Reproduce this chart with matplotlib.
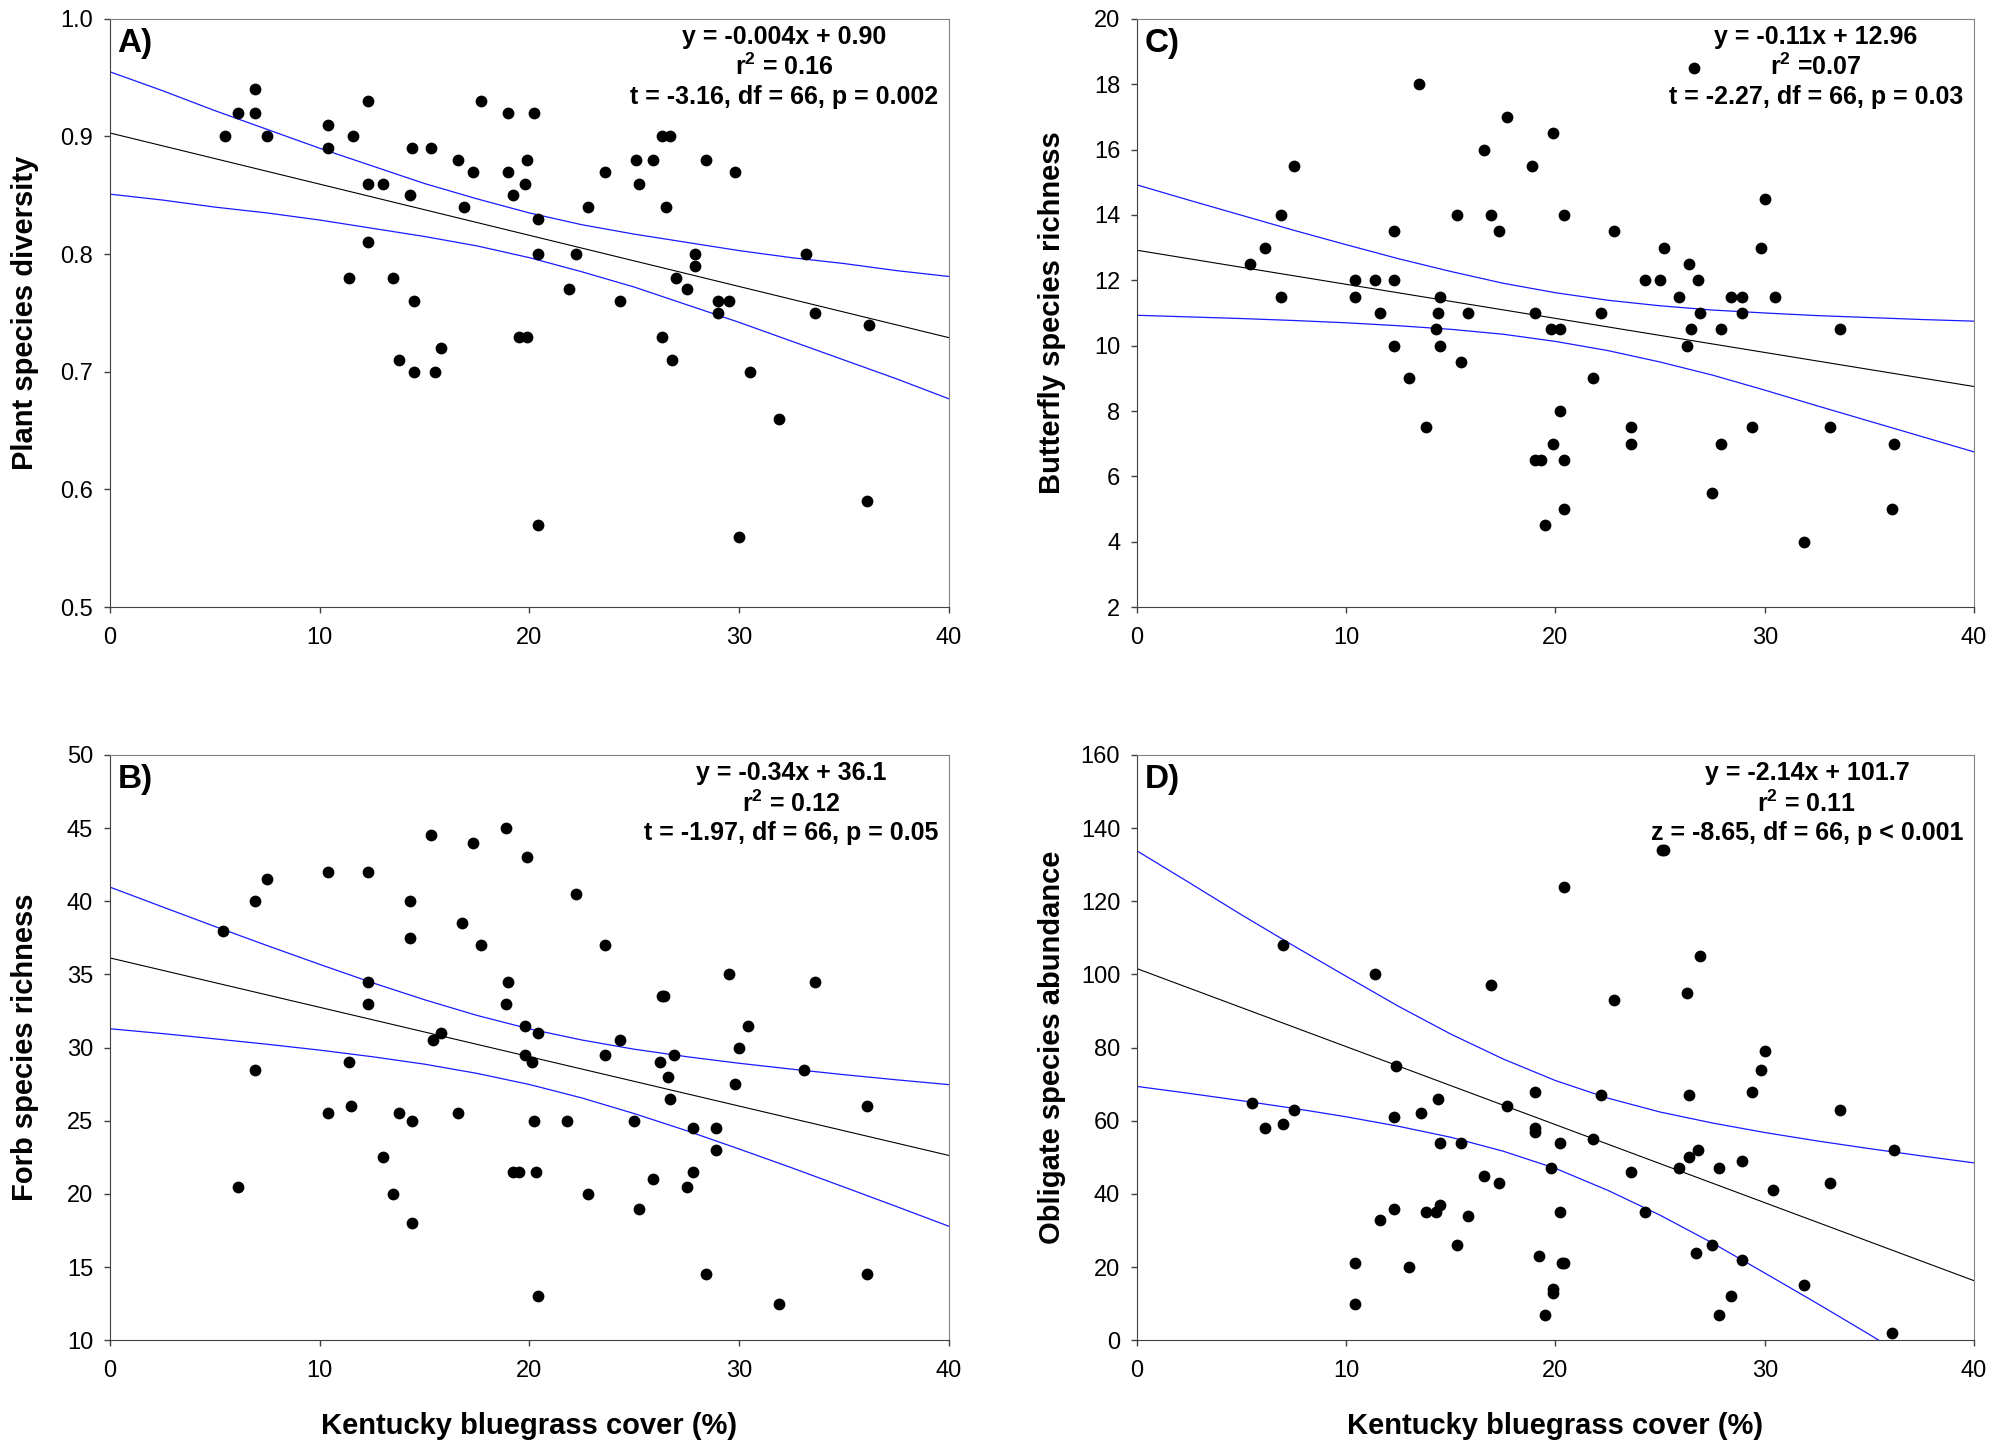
import matplotlib
matplotlib.use('Agg')
import matplotlib.pyplot as plt
import numpy as np

plt.rcParams['font.family'] = ['Liberation Sans', 'DejaVu Sans']
plt.rcParams['mathtext.fontset'] = 'custom'
plt.rcParams['mathtext.rm'] = 'Liberation Sans'
plt.rcParams['mathtext.bf'] = 'Liberation Sans:bold'

# ---------------- data ----------------
# A) plant species diversity
x_a = [5.5, 6.1, 6.9, 6.9, 7.5, 10.4, 10.4, 11.6, 12.3, 12.3, 13.0, 12.3, 11.4, 14.3,
       14.4, 15.3, 13.5, 14.5, 13.8, 14.5, 15.5, 15.8, 16.6, 17.3, 16.9, 17.7, 19.0,
       20.2, 19.0, 19.2, 19.9, 19.8, 20.4, 20.4, 19.5, 19.9, 20.4, 21.9, 22.2, 22.8,
       23.6, 24.3, 25.1, 25.2, 25.9, 26.3, 26.7, 26.5, 26.3, 26.8, 27.0, 27.5, 27.9,
       27.9, 28.4, 29.0, 29.5, 29.0, 29.8, 30.5, 31.9, 33.2, 33.6, 36.2, 36.1, 30.0]
y_a = [0.90, 0.92, 0.94, 0.92, 0.90, 0.91, 0.89, 0.90, 0.93, 0.86, 0.86, 0.81, 0.78, 0.85,
       0.89, 0.89, 0.78, 0.76, 0.71, 0.70, 0.70, 0.72, 0.88, 0.87, 0.84, 0.93, 0.92,
       0.92, 0.87, 0.85, 0.88, 0.86, 0.83, 0.80, 0.73, 0.73, 0.57, 0.77, 0.80, 0.84,
       0.87, 0.76, 0.88, 0.86, 0.88, 0.90, 0.90, 0.84, 0.73, 0.71, 0.78, 0.77, 0.80,
       0.79, 0.88, 0.76, 0.76, 0.75, 0.87, 0.70, 0.66, 0.80, 0.75, 0.74, 0.59, 0.56]

# C) butterfly species richness
x_c = [5.4, 6.1, 6.9, 6.9, 7.5, 10.4, 10.4, 11.4, 11.6, 12.3, 12.3, 12.3, 13.0, 13.5,
       13.8, 14.5, 14.4, 14.3, 14.5, 15.3, 15.5, 15.8, 16.6, 16.9, 17.3, 17.7, 18.9,
       19.0, 19.0, 19.3, 19.5, 19.8, 20.2, 19.9, 19.9, 20.4, 20.2, 20.4, 20.4, 21.8,
       22.2, 22.8, 23.6, 23.6, 24.3, 25.0, 25.2, 25.9, 26.4, 26.8, 26.5, 26.3, 26.9,
       26.6, 27.5, 27.9, 27.9, 28.4, 28.9, 28.9, 29.4, 29.8, 30.0, 30.5, 31.9, 33.1,
       33.6, 36.2, 36.1]
y_c = [12.5, 13.0, 14.0, 11.5, 15.5, 12.0, 11.5, 12.0, 11.0, 13.5, 12.0, 10.0, 9.0, 18.0,
       7.5, 11.5, 11.0, 10.5, 10.0, 14.0, 9.5, 11.0, 16.0, 14.0, 13.5, 17.0, 15.5,
       11.0, 6.5, 6.5, 4.5, 10.5, 10.5, 7.0, 16.5, 14.0, 8.0, 6.5, 5.0, 9.0,
       11.0, 13.5, 7.5, 7.0, 12.0, 12.0, 13.0, 11.5, 12.5, 12.0, 10.5, 10.0, 11.0,
       18.5, 5.5, 10.5, 7.0, 11.5, 11.5, 11.0, 7.5, 13.0, 14.5, 11.5, 4.0, 7.5,
       10.5, 7.0, 5.0]

# B) forb species richness
x_b = [5.4, 6.1, 6.9, 6.9, 7.5, 10.4, 10.4, 11.4, 11.5, 12.3, 12.3, 12.3, 13.0, 13.5,
       13.8, 14.3, 14.3, 14.4, 14.4, 15.3, 15.4, 15.8, 16.6, 16.8, 17.3, 17.7, 18.9,
       19.0, 18.9, 19.2, 19.5, 19.9, 19.8, 19.8, 20.1, 20.4, 20.2, 20.3, 20.4, 21.8,
       22.2, 22.8, 23.6, 23.6, 24.3, 25.0, 25.2, 25.9, 26.2, 26.3, 26.4, 26.6, 26.9,
       26.7, 27.5, 27.8, 27.8, 28.4, 28.9, 28.9, 29.5, 29.8, 30.0, 30.4, 31.9, 33.1,
       33.6, 36.1, 36.1]
y_b = [38.0, 20.5, 40.0, 28.5, 41.5, 42.0, 25.5, 29.0, 26.0, 42.0, 34.5, 33.0, 22.5, 20.0,
       25.5, 40.0, 37.5, 25.0, 18.0, 44.5, 30.5, 31.0, 25.5, 38.5, 44.0, 37.0, 45.0,
       34.5, 33.0, 21.5, 21.5, 43.0, 31.5, 29.5, 29.0, 31.0, 25.0, 21.5, 13.0, 25.0,
       40.5, 20.0, 37.0, 29.5, 30.5, 25.0, 19.0, 21.0, 29.0, 33.5, 33.5, 28.0, 29.5,
       26.5, 20.5, 24.5, 21.5, 14.5, 24.5, 23.0, 35.0, 27.5, 30.0, 31.5, 12.5, 28.5,
       34.5, 26.0, 14.5]

# D) obligate species abundance
x_d = [5.5, 6.1, 7.0, 7.0, 7.5, 10.4, 10.4, 11.4, 11.6, 12.4, 12.3, 12.3, 13.0, 13.6,
       13.8, 14.3, 14.5, 14.4, 14.5, 15.3, 15.5, 15.8, 16.6, 16.9, 17.3, 17.7, 19.0,
       19.0, 19.0, 19.2, 19.5, 19.8, 19.9, 19.9, 20.2, 20.2, 20.3, 20.4, 20.4, 21.8,
       22.2, 22.8, 23.6, 24.3, 25.1, 25.2, 25.9, 26.3, 26.4, 26.4, 26.8, 26.7, 26.9,
       27.5, 27.8, 27.8, 28.4, 28.9, 28.9, 29.4, 29.8, 30.0, 30.4, 31.9, 33.1, 33.6,
       36.2, 36.1]
y_d = [65, 58, 108, 59, 63, 21, 10, 100, 33, 75, 61, 36, 20, 62,
       35, 35, 37, 66, 54, 26, 54, 34, 45, 97, 43, 64, 68,
       58, 57, 23, 7, 47, 14, 13, 35, 54, 21, 21, 124, 55,
       67, 93, 46, 35, 134, 134, 47, 95, 67, 50, 52, 24, 105,
       26, 47, 7, 12, 49, 22, 68, 74, 79, 41, 15, 43, 63,
       52, 2]

# regression line (ends) and 95% confidence bands, read at x = 0, 2.5, ..., 40
fit_x = [0, 40]
band_x = [0, 2.5, 5, 7.5, 10, 12.5, 15, 17.5, 20, 22.5, 25, 27.5, 30, 32.5, 35, 37.5, 40]

fit_a = [0.903, 0.729]
upper_a = [0.955, 0.939, 0.922, 0.906, 0.890, 0.875, 0.860, 0.847, 0.835,
           0.825, 0.817, 0.810, 0.803, 0.797, 0.792, 0.786, 0.781]
lower_a = [0.851, 0.846, 0.840, 0.835, 0.829, 0.822, 0.815, 0.807, 0.797,
           0.785, 0.772, 0.757, 0.742, 0.726, 0.710, 0.694, 0.677]

fit_c = [12.92, 8.75]
upper_c = [14.92, 14.45, 13.99, 13.53, 13.09, 12.66, 12.27, 11.91, 11.62,
           11.39, 11.22, 11.09, 11.00, 10.92, 10.86, 10.80, 10.75]
lower_c = [10.93, 10.88, 10.83, 10.77, 10.70, 10.61, 10.50, 10.35, 10.13,
           9.85, 9.50, 9.10, 8.64, 8.16, 7.69, 7.22, 6.75]

fit_b = [36.13, 22.63]
upper_b = [40.97, 39.62, 38.28, 36.97, 35.69, 34.44, 33.27, 32.20, 31.28,
           30.52, 29.89, 29.38, 28.93, 28.53, 28.15, 27.80, 27.47]
lower_b = [31.29, 30.96, 30.60, 30.23, 29.83, 29.38, 28.87, 28.24, 27.48,
           26.56, 25.49, 24.32, 23.07, 21.79, 20.47, 19.14, 17.79]

fit_d = [101.6, 16.3]
upper_d = [133.8, 125.1, 116.3, 107.8, 99.5, 91.3, 83.7, 76.9, 71.0,
           66.2, 62.4, 59.4, 56.8, 54.5, 52.4, 50.4, 48.5]
lower_d = [69.4, 67.5, 65.5, 63.4, 61.1, 58.5, 55.5, 51.7, 47.0,
           41.0, 34.2, 26.6, 18.4, 10.1, 1.6, -7.2, -15.9]

# panel text
labels = ['A)', 'C)', 'B)', 'D)']
ylabels = ['Plant species diversity', 'Butterfly species richness',
           'Forb species richness', 'Obligate species abundance']
stats = [r'y = -0.004x + 0.90' + '\n' + r'r$^{\mathbf{2}}$ = 0.16' + '\n' + 't = -3.16, df = 66, p = 0.002',
         r'y = -0.11x + 12.96' + '\n' + r'r$^{\mathbf{2}}$ =0.07' + '\n' + 't = -2.27, df = 66, p = 0.03',
         r'y = -0.34x + 36.1' + '\n' + r'r$^{\mathbf{2}}$ = 0.12' + '\n' + 't = -1.97, df = 66, p = 0.05',
         r'y = -2.14x + 101.7' + '\n' + r'r$^{\mathbf{2}}$ = 0.11' + '\n' + 'z = -8.65, df = 66, p < 0.001']
yticks = [np.arange(0.5, 1.01, 0.1), np.arange(2, 21, 2), np.arange(10, 51, 5), np.arange(0, 161, 20)]
yticklabels = [['0.5', '0.6', '0.7', '0.8', '0.9', '1.0'], None, None, None]
ylims = [(0.5, 1.0), (2, 20), (10, 50), (0, 160)]

xs = [x_a, x_c, x_b, x_d]
ys = [y_a, y_c, y_b, y_d]
fits = [fit_a, fit_c, fit_b, fit_d]
uppers = [upper_a, upper_c, upper_b, upper_d]
lowers = [lower_a, lower_c, lower_b, lower_d]

fig = plt.figure(figsize=(19.98, 14.49), dpi=100)
# left column starts at 0.055, right column at 0.569
rects = [[0.055, 0.581, 0.42, 0.406], [0.569, 0.581, 0.419, 0.406],
         [0.055, 0.075, 0.42, 0.404], [0.569, 0.075, 0.419, 0.404]]

for i in range(4):
    ax = fig.add_axes(rects[i])
    ax.scatter(xs[i], ys[i], s=72, color='black', zorder=3, linewidths=0)
    ax.plot(fit_x, fits[i], color='black', lw=0.8, zorder=2)
    ax.plot(band_x, uppers[i], color='#1a1aff', lw=0.9, zorder=2)
    ax.plot(band_x, lowers[i], color='#1a1aff', lw=0.9, zorder=2)
    ax.set_xlim(0, 40)
    ax.set_ylim(*ylims[i])
    ax.set_xticks([0, 10, 20, 30, 40])
    ax.set_yticks(yticks[i])
    if yticklabels[i] is not None:
        ax.set_yticklabels(yticklabels[i])
    ax.tick_params(direction='out', length=4, width=1, labelsize=17, color='#404040')
    ax.tick_params(axis='x', pad=10)
    ax.tick_params(axis='y', pad=8)
    for side in ['left', 'bottom']:
        ax.spines[side].set_color('#404040')
    for side in ['top', 'right']:
        ax.spines[side].set_color('#808080')
    ax.set_ylabel(ylabels[i], fontsize=21, fontweight='bold')
    ax.yaxis.set_label_coords(-0.085, 0.5)
    if i >= 2:
        ax.set_xlabel('Kentucky bluegrass cover (%)', fontsize=21, fontweight='bold')
        ax.xaxis.set_label_coords(0.5, -0.122)
    ax.text(0.009, 0.985, labels[i], transform=ax.transAxes, fontsize=24,
            fontweight='bold', ha='left', va='top')
    ax.text(0.987, 0.99, stats[i], transform=ax.transAxes, fontsize=18,
            fontweight='bold', ha='right', va='top', multialignment='center',
            linespacing=1.25)

fig.savefig('out.png', dpi=100)
